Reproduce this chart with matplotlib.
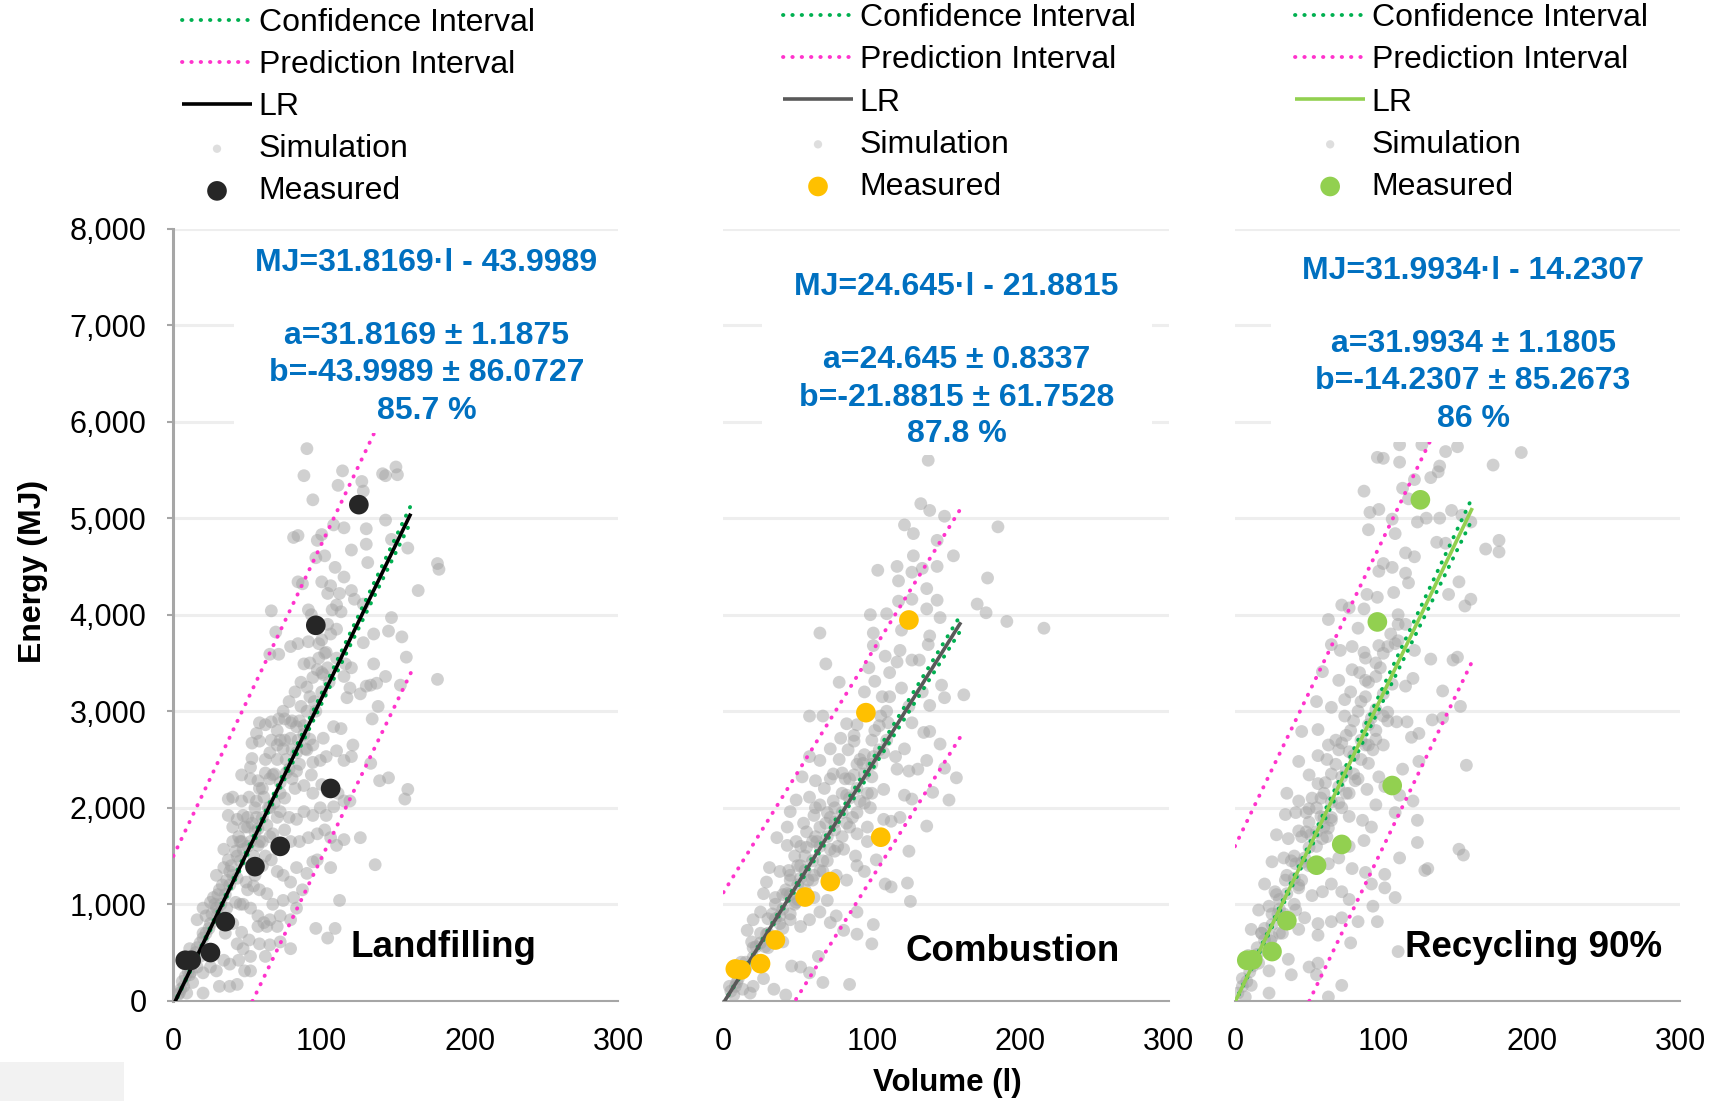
import matplotlib
matplotlib.use('Agg')
import matplotlib.pyplot as plt
from matplotlib.patches import Rectangle
from matplotlib.ticker import FuncFormatter

plt.rcParams['font.family'] = ['Liberation Sans', 'DejaVu Sans']

# --- data ------------------------------------------------------------------
panel_names = ['Landfilling', 'Combustion', 'Recycling 90%']
slopes = [31.8169, 24.645, 31.9934]
intercepts = [-43.9989, -21.8815, -14.2307]
slope_err = [1.1875, 0.8337, 1.1805]
intercept_err = [86.0727, 61.7528, 85.2673]
r2_labels = ['85.7 %', '87.8 %', '86 %']

x_ticks = [0, 100, 200, 300]
y_ticks = [0, 1000, 2000, 3000, 4000, 5000, 6000, 7000, 8000]

# fitted lines and interval bands, evaluated at these volumes
line_x = [0, 160]
ci_upper = [[-40, 5130], [-20, 4000], [-10, 5215]]
ci_lower = [[-50, 4960], [-25, 3840], [-20, 4990]]
pi_upper = [[1500, 6680], [1123, 5102], [1600, 6705]]
pi_lower = [[-1700, 3396], [-1183, 2742], [-1608, 3520]]

measured_volume = [8, 12, 25, 35, 55, 72, 106, 96, 125]
landfill_measured = [420, 420, 500, 820, 1390, 1600, 2200, 3890, 5140]
combust_measured = [330, 320, 385, 630, 1075, 1235, 1695, 2985, 3945]
recycle_measured = [420, 425, 510, 830, 1405, 1620, 2230, 3925, 5190]

landfill_sim = [
    (90, 5720), (88, 5440), (94, 5190), (114, 5490), (111, 5340), (127, 5380), (128, 5280), (141, 5460),
    (143, 5440), (150, 5530), (151, 5450), (143, 4980), (130, 4890), (130, 4730), (120, 4670), (81, 4800),
    (84, 4820), (97, 4770), (100, 4830), (102, 4610), (115, 4900), (108, 4930), (96, 4590), (109, 4490),
    (115, 4390), (131, 4540), (147, 4780), (158, 4690), (178, 4530), (179, 4470), (165, 4250), (84, 4340),
    (87, 4320), (100, 4340), (106, 4300), (104, 4220), (112, 4220), (120, 4250), (122, 4160), (128, 4110),
    (107, 4050), (113, 4030), (91, 4050), (93, 4000), (66, 4040), (69, 3820), (100, 3740), (91, 3720),
    (84, 3700), (79, 3670), (71, 3590), (65, 3590), (103, 3610), (88, 3490), (97, 3430), (101, 3380),
    (110, 3550), (116, 3490), (128, 3710), (135, 3800), (145, 3830), (147, 3970), (154, 3770), (157, 3560),
    (135, 3490), (143, 3360), (137, 3290), (130, 3260), (126, 3180), (119, 3240), (115, 3360), (120, 3450),
    (133, 3270), (153, 3270), (178, 3330), (138, 3050), (134, 2920), (117, 3140), (113, 2820), (108, 2840),
    (101, 2720), (94, 2650), (92, 2710), (88, 2760), (83, 2840), (79, 2880), (75, 2920), (71, 2920),
    (66, 2890), (62, 2860), (58, 2880), (56, 2770), (53, 2670), (58, 2690), (65, 2570), (70, 2650),
    (74, 2610), (79, 2720), (83, 2570), (89, 2610), (94, 2470), (99, 2490), (103, 2530), (110, 2590),
    (115, 2490), (120, 2530), (121, 2650), (133, 2460), (139, 2280), (145, 2310), (158, 2190), (156, 2090),
    (53, 2510), (52, 2420), (46, 2340), (52, 2300), (57, 2280), (62, 2360), (67, 2340), (72, 2260),
    (76, 2360), (83, 2380), (88, 2230), (93, 2340), (94, 2150), (100, 2240), (104, 2170), (111, 2150),
    (115, 2070), (119, 2070), (108, 2010), (103, 1920), (99, 2000), (94, 1920), (88, 1960), (83, 1880),
    (78, 1900), (72, 1960), (65, 2000), (61, 2110), (56, 2070), (51, 2110), (46, 2070), (40, 2110),
    (37, 2090), (37, 1920), (43, 1880), (47, 1920), (53, 1840), (57, 1780), (63, 1820), (67, 1730),
    (75, 1770), (79, 1650), (85, 1650), (91, 1690), (97, 1730), (102, 1770), (106, 1690), (110, 1610),
    (115, 1670), (126, 1690), (97, 1460), (94, 1440), (106, 1380), (136, 1410), (112, 1040), (40, 1650),
    (34, 1570), (37, 1460), (43, 1500), (47, 1570), (52, 1650), (57, 1610), (62, 1500), (66, 1460),
    (70, 1340), (74, 1300), (79, 1230), (83, 1380), (90, 1320), (87, 1150), (81, 1070), (74, 1040),
    (67, 1000), (63, 1110), (58, 1150), (54, 1190), (49, 1230), (43, 1270), (38, 1340), (34, 1380),
    (29, 1300), (31, 1150), (27, 1070), (25, 1020), (20, 960), (16, 840), (22, 880), (29, 960),
    (36, 960), (42, 1020), (47, 1000), (52, 960), (57, 880), (61, 810), (65, 840), (72, 880),
    (79, 840), (83, 960), (57, 770), (63, 770), (70, 770), (58, 590), (65, 580), (72, 610),
    (79, 540), (51, 630), (46, 710), (43, 590), (47, 540), (52, 460), (44, 420), (38, 380),
    (34, 420), (29, 310), (25, 350), (20, 290), (16, 350), (11, 270), (7, 150), (9, 80),
    (20, 80), (31, 150), (38, 150), (43, 170), (48, 310), (52, 310), (4, 80), (13, 190),
    (18, 460), (11, 540), (8, 420), (96, 750), (109, 750), (104, 650), (62, 460),
    (10, 300), (15, 500), (20, 650), (25, 800), (30, 900), (35, 1100), (40, 1300), (45, 1450),
    (50, 1600), (55, 1750), (60, 1900), (3, 60), (5, 120), (12, 400), (18, 600), (22, 700),
    (28, 1000), (33, 1200), (38, 1200), (44, 1700), (48, 1800), (60, 2200), (65, 2300), (70, 2500),
    (75, 2700), (80, 2600), (85, 2900), (90, 3000), (95, 3100), (100, 3200), (105, 3300), (68, 2050),
    (72, 2150), (78, 2400), (82, 2200), (86, 3300), (92, 3500), (98, 3700), (104, 3900), (110, 4100),
    (40, 1800), (45, 1650), (50, 1900), (55, 2000), (58, 2200), (62, 2500), (66, 2700), (70, 2800),
    (74, 3000), (78, 3100), (82, 3200), (86, 3050), (90, 3250), (94, 3350), (98, 3550), (102, 3600),
    (106, 3800), (110, 3850), (60, 1650), (64, 2000), (68, 2350), (72, 2700), (76, 2500), (80, 2900),
    (84, 2700), (88, 2850), (92, 3150), (96, 3000), (100, 3400), (104, 3450), (30, 1100), (32, 1000),
    (36, 1250), (39, 1400), (42, 1550), (46, 1650), (50, 1800), (54, 1500), (56, 1900), (58, 1650),
    (26, 900), (24, 750), (20, 700), (16, 550), (14, 450), (12, 300), (8, 250), (6, 200),
    (35, 700), (40, 800), (45, 1000), (50, 1150), (55, 1300), (60, 1400), (65, 1700), (70, 1900),
    (75, 2100), (80, 2300), (85, 2450), (90, 2600),
]

combust_sim = [
    (138, 5600), (133, 5150), (139, 5080), (122, 4930), (128, 4840), (149, 5020), (185, 4910), (144, 4770),
    (155, 4610), (128, 4610), (117, 4500), (104, 4460), (134, 4480), (144, 4500), (127, 4440), (118, 4350),
    (178, 4380), (137, 4270), (127, 4160), (118, 4140), (144, 4150), (171, 4110), (177, 4020), (191, 3930),
    (216, 3860), (137, 4060), (146, 3970), (99, 4000), (110, 4010), (120, 3840), (101, 3810), (65, 3810),
    (69, 3490), (101, 3680), (109, 3570), (119, 3630), (139, 3780), (138, 3690), (127, 3530), (132, 3530),
    (117, 3510), (112, 3400), (98, 3450), (102, 3310), (95, 3200), (78, 3300), (107, 3150), (112, 3150),
    (120, 3240), (125, 3050), (134, 3200), (147, 3270), (149, 3140), (162, 3170), (139, 3060), (58, 2950),
    (67, 2950), (83, 2870), (90, 2860), (106, 2950), (111, 2880), (127, 2880), (135, 2780), (139, 2790),
    (146, 2660), (122, 2610), (116, 2530), (108, 2570), (101, 2530), (94, 2460), (88, 2690), (79, 2720),
    (72, 2610), (65, 2490), (58, 2530), (53, 2320), (62, 2280), (72, 2300), (80, 2360), (88, 2340),
    (100, 2320), (108, 2190), (117, 2400), (125, 2380), (131, 2400), (137, 2490), (149, 2410), (157, 2310),
    (141, 2160), (152, 2080), (122, 2130), (127, 2090), (49, 2080), (58, 2110), (65, 2030), (74, 2070),
    (83, 2130), (92, 2070), (99, 2000), (108, 1880), (113, 1860), (119, 1900), (137, 1810), (97, 1800),
    (90, 1730), (83, 1840), (75, 1770), (69, 1840), (61, 1920), (54, 1840), (45, 1960), (43, 1800),
    (36, 1690), (43, 1610), (49, 1650), (56, 1590), (63, 1650), (72, 1570), (81, 1570), (89, 1500),
    (97, 1650), (103, 1460), (95, 1340), (90, 1400), (125, 1550), (109, 1210), (113, 1180), (124, 1220),
    (126, 1030), (83, 1250), (76, 1300), (67, 1340), (61, 1300), (52, 1270), (45, 1300), (38, 1340),
    (31, 1380), (29, 1230), (27, 1110), (35, 1070), (43, 1110), (49, 1020), (61, 1070), (70, 1040),
    (65, 920), (76, 880), (90, 920), (101, 790), (100, 590), (90, 690), (81, 730), (72, 810),
    (58, 840), (52, 770), (45, 840), (38, 880), (25, 920), (20, 840), (16, 730), (19, 610),
    (29, 690), (40, 610), (46, 360), (52, 350), (64, 460), (58, 290), (67, 190), (85, 170),
    (42, 60), (34, 120), (27, 230), (20, 150), (13, 120), (9, 190), (7, 60), (18, 80),
    (11, 350), (4, 150),
    (5, 100), (10, 230), (15, 330), (20, 450), (25, 600), (30, 700), (35, 850), (40, 950),
    (45, 1100), (50, 1200), (55, 1350), (60, 1450), (65, 1600), (70, 1700), (75, 1850), (80, 1950),
    (85, 2100), (90, 2200), (95, 2350), (100, 2450), (105, 2600), (110, 2700), (12, 400), (22, 560),
    (28, 560), (33, 900), (38, 800), (42, 1150), (48, 1000), (52, 1400), (57, 1250), (62, 1700),
    (67, 1450), (72, 1900), (77, 1600), (82, 2300), (87, 1900), (92, 2500), (97, 2150), (102, 2800),
    (40, 1100), (45, 1250), (50, 1400), (55, 1500), (60, 1650), (65, 1800), (70, 1950), (75, 2000),
    (80, 2150), (85, 2300), (90, 2450), (95, 2550), (100, 2700), (105, 2850), (110, 3000), (45, 900),
    (50, 1050), (55, 1150), (60, 1250), (65, 1350), (70, 1450), (75, 1550), (80, 1700), (85, 1800),
    (90, 1950), (95, 2050), (100, 2150), (35, 1000), (30, 850), (25, 700), (20, 550), (15, 400),
    (10, 300), (8, 150), (30, 550), (35, 650), (40, 750), (62, 2000), (68, 2200), (74, 2350),
    (78, 2500), (84, 2600), (88, 2750), (56, 1750), (52, 1600), (48, 1500), (44, 1350),
]

recycle_sim = [
    (111, 5760), (126, 5760), (142, 5690), (150, 5740), (193, 5680), (174, 5550), (96, 5630), (100, 5620),
    (111, 5580), (138, 5540), (137, 5480), (132, 5420), (121, 5400), (113, 5310), (87, 5280), (117, 5200),
    (97, 5090), (91, 5060), (106, 4990), (123, 4960), (129, 5000), (138, 5000), (146, 5080), (153, 5030),
    (159, 4960), (90, 4880), (108, 4840), (136, 4750), (142, 4740), (169, 4680), (178, 4770), (178, 4650),
    (115, 4640), (121, 4600), (100, 4530), (106, 4490), (97, 4450), (115, 4430), (117, 4330), (107, 4230),
    (96, 4180), (89, 4210), (144, 4210), (151, 4340), (159, 4160), (155, 4090), (72, 4100), (77, 4070),
    (63, 3950), (83, 3860), (87, 4060), (110, 4000), (115, 3900), (65, 3690), (71, 3630), (79, 3670),
    (87, 3610), (97, 3680), (103, 3670), (110, 3730), (121, 3630), (132, 3540), (147, 3530), (150, 3560),
    (59, 3410), (70, 3320), (79, 3430), (88, 3320), (95, 3360), (106, 3280), (115, 3260), (120, 3340),
    (140, 3210), (152, 3050), (55, 3100), (65, 3040), (74, 3120), (83, 3000), (92, 2930), (103, 2990),
    (109, 2890), (116, 2890), (133, 2910), (140, 2930), (119, 2730), (124, 2770), (45, 2790), (56, 2810),
    (63, 2650), (72, 2670), (77, 2580), (88, 2650), (95, 2710), (100, 2650), (90, 2460), (97, 2320),
    (113, 2400), (124, 2480), (156, 2440), (43, 2480), (50, 2340), (56, 2540), (61, 2260), (72, 2320),
    (81, 2280), (77, 2150), (89, 2190), (101, 2220), (111, 2130), (120, 2070), (35, 2150), (43, 2070),
    (34, 1930), (41, 1950), (50, 1990), (58, 1910), (65, 1870), (77, 1910), (86, 1870), (95, 2030),
    (92, 1800), (108, 1950), (123, 1870), (28, 1720), (36, 1680), (43, 1760), (51, 1720), (59, 1680),
    (63, 1790), (77, 1600), (87, 1660), (123, 1640), (151, 1570), (154, 1510), (25, 1440), (33, 1480),
    (41, 1420), (47, 1480), (63, 1420), (70, 1480), (79, 1370), (88, 1330), (101, 1310), (111, 1480),
    (128, 1350), (130, 1370), (20, 1210), (27, 1130), (34, 1250), (43, 1170), (52, 1090), (59, 1130),
    (65, 1210), (72, 1130), (77, 1050), (92, 1210), (101, 1170), (108, 1070), (93, 980), (16, 940),
    (23, 980), (29, 900), (41, 940), (47, 860), (56, 800), (65, 820), (72, 860), (83, 820),
    (96, 820), (11, 740), (18, 700), (25, 660), (32, 700), (43, 740), (56, 680), (78, 600),
    (9, 470), (16, 390), (23, 310), (36, 430), (38, 270), (50, 350), (55, 270), (56, 390),
    (110, 510), (72, 160), (63, 40), (5, 230), (11, 160), (23, 80), (2, 80), (7, 40),
    (5, 150), (10, 300), (15, 480), (20, 630), (25, 790), (30, 950), (35, 1110), (40, 1270),
    (45, 1430), (50, 1590), (55, 1750), (60, 1900), (65, 2060), (70, 2220), (75, 2380), (80, 2540),
    (85, 2700), (90, 2860), (95, 3020), (100, 3180), (12, 360), (18, 700), (24, 620), (28, 1100),
    (33, 900), (38, 1450), (43, 1200), (48, 1750), (52, 1400), (58, 2100), (62, 1700), (68, 2450),
    (72, 2000), (78, 2800), (83, 2300), (88, 3150), (93, 2600), (98, 3450), (103, 2900), (108, 3700),
    (40, 1500), (45, 1700), (50, 1850), (55, 2000), (60, 2150), (65, 2350), (70, 2600), (75, 2750),
    (80, 2900), (85, 3100), (90, 3300), (95, 3500), (100, 3600), (105, 3800), (110, 3900), (45, 1250),
    (50, 1400), (55, 1600), (60, 1800), (65, 1900), (70, 2050), (75, 2150), (80, 2350), (85, 2500),
    (90, 2650), (95, 2800), (100, 2950), (35, 1300), (30, 1050), (25, 900), (20, 750), (15, 550),
    (10, 400), (8, 200), (30, 700), (35, 850), (40, 1000), (62, 2500), (68, 2700), (74, 2950),
    (78, 3200), (84, 3400), (88, 3550), (56, 2250), (52, 2100), (48, 1950),
]

sim_sets = [landfill_sim, combust_sim, recycle_sim]
measured_sets = [landfill_measured, combust_measured, recycle_measured]

# --- styling -----------------------------------------------------------------
lr_colors = ['black', '#595959', '#92d050']
measured_colors = ['#262626', '#ffc000', '#92d050']
ci_color = '#00b050'
pi_color = '#ff33cc'
blue = '#0070c0'
axis_gray = '#a6a6a6'
dotted = (0, (0.1, 2.3))

ax_lefts = [0.1001, 0.4177, 0.7130]
legend_anchor = [(0.105, 0.993), (0.452, 0.997), (0.7477, 0.997)]
# white label boxes covering the plot, in data units: x0, x1, y0, y1
label_boxes = [(41, 330, 5880, 7870), (26, 289, 5650, 7850), (24, 320, 5790, 7850)]
text_x = [170.5, 157, 160.5]
text_y = [[7643, 6888, 6499, 6110], [7391, 6636, 6247, 5870], [7563, 6808, 6419, 6030]]
name_pos = [(181.7, 549), (195, 515), (201, 549)]

fig = plt.figure(figsize=(17.32, 11.01), dpi=100)

for i in range(3):
    ax = fig.add_axes([ax_lefts[i], 0.0910, 0.2570, 0.7014])
    ax.set_xlim(0, 300)
    ax.set_ylim(0, 8000)
    ax.set_xticks(x_ticks)
    ax.set_yticks(y_ticks)
    ax.set_axisbelow(True)
    ax.grid(axis='y', color='#eeeeee', lw=2.2)
    for s in ['top', 'right']:
        ax.spines[s].set_visible(False)
    ax.spines['bottom'].set_color(axis_gray)
    ax.spines['bottom'].set_linewidth(1.5)
    ax.tick_params(axis='x', length=0, pad=19, labelsize=22)
    if i == 0:
        ax.spines['left'].set_color(axis_gray)
        ax.spines['left'].set_linewidth(2.2)
        ax.tick_params(axis='y', length=4.3, width=1.5, color=axis_gray, pad=15, labelsize=22)
        ax.yaxis.set_major_formatter(FuncFormatter(lambda v, _: f'{int(v):,}'))
    else:
        ax.spines['left'].set_visible(False)
        ax.tick_params(axis='y', left=False, labelleft=False)

    sx = [p[0] for p in sim_sets[i]]
    sy = [p[1] for p in sim_sets[i]]
    sim = ax.scatter(sx, sy, s=85, color='#a3a3a3', alpha=0.5, edgecolors='none', zorder=2,
                     label='Simulation')

    pi, = ax.plot(line_x, pi_upper[i], color=pi_color, lw=2.8, ls=dotted, dash_capstyle='round',
                  zorder=3, label='Prediction Interval')
    ax.plot(line_x, pi_lower[i], color=pi_color, lw=2.8, ls=dotted, dash_capstyle='round', zorder=3)
    ci, = ax.plot(line_x, ci_upper[i], color=ci_color, lw=2.8, ls=dotted, dash_capstyle='round',
                  zorder=3, label='Confidence Interval')
    ax.plot(line_x, ci_lower[i], color=ci_color, lw=2.8, ls=dotted, dash_capstyle='round', zorder=3)

    lr_y = [slopes[i] * x + intercepts[i] for x in line_x]
    lr, = ax.plot(line_x, lr_y, color=lr_colors[i], lw=2.6, solid_capstyle='butt', zorder=4, label='LR')

    meas = ax.scatter(measured_volume, measured_sets[i], s=200, color=measured_colors[i],
                      edgecolors='none', zorder=5, label='Measured')

    x0, x1, y0, y1 = label_boxes[i]
    ax.add_patch(Rectangle((x0, y0), x1 - x0, y1 - y0, facecolor='white', edgecolor='none',
                           zorder=6, clip_on=False))

    a, b = slopes[i], intercepts[i]
    lines = [f'MJ={a}·l - {abs(b)}', f'a={a} ± {slope_err[i]}', f'b={b} ± {intercept_err[i]}', r2_labels[i]]
    for txt, ty in zip(lines, text_y[i]):
        ax.text(text_x[i], ty, txt, ha='center', va='center', color=blue, fontsize=23,
                fontweight='bold', zorder=7, clip_on=False)

    ax.text(name_pos[i][0], name_pos[i][1], panel_names[i], ha='center', va='center',
            fontsize=26.5, fontweight='bold', zorder=7)

    leg = ax.legend(handles=[ci, pi, lr, sim, meas], loc='upper left', bbox_to_anchor=legend_anchor[i],
                    bbox_transform=fig.transFigure, frameon=False, fontsize=23, borderpad=0,
                    borderaxespad=0, handlelength=2.2, handletextpad=0.2, labelspacing=0.38)
    leg.legend_handles[3].set_sizes([36])
    leg.legend_handles[3].set_alpha(0.35)

fig.text(33 / 1732, 1 - 571 / 1101, 'Energy (MJ)', rotation=90, ha='center', va='center',
         fontsize=23, fontweight='bold')
fig.text(947 / 1732, 1 - 1082.5 / 1101, 'Volume (l)', ha='center', va='center',
         fontsize=22.5, fontweight='bold')
fig.patches.append(Rectangle((0, 0), 124 / 1732, 39 / 1101, transform=fig.transFigure,
                             facecolor='#f2f2f2', edgecolor='none', zorder=0))

fig.savefig('out.png', dpi=100)
